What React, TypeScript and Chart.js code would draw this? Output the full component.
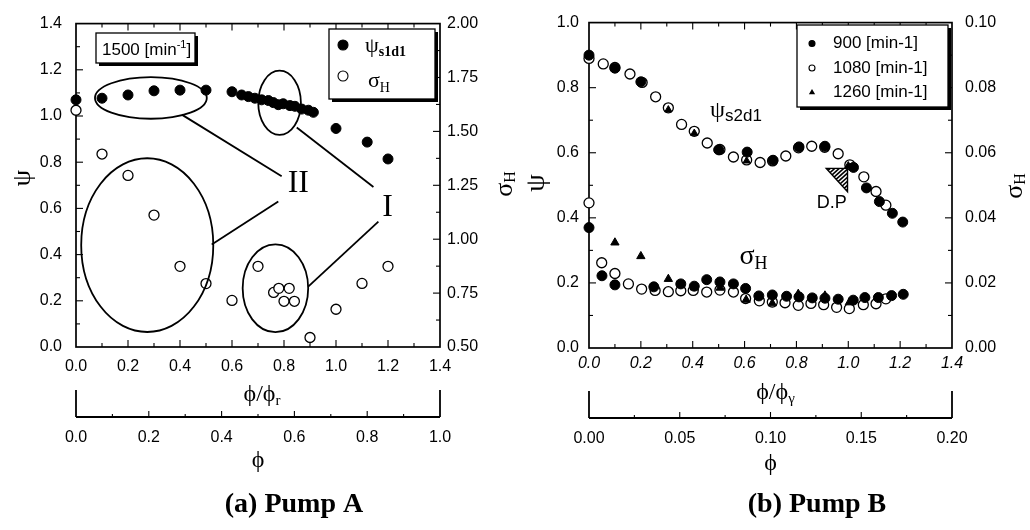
import React, { useEffect, useRef } from "react";
import { Chart, registerables } from "chart.js";

Chart.register(...registerables);

// ---------- Pump A (1500 min-1) ----------
// head coefficient ψ_s1d1 against φ/φr
const pumpAPsiFlow = [0.0, 0.1, 0.2, 0.3, 0.4, 0.5, 0.6, 0.637, 0.663, 0.688, 0.714, 0.74, 0.759, 0.778, 0.797, 0.823, 0.842, 0.868, 0.894, 0.913, 1.0, 1.12, 1.2];
const pumpAPsi = [1.07, 1.077, 1.091, 1.109, 1.112, 1.112, 1.105, 1.091, 1.084, 1.077, 1.07, 1.067, 1.058, 1.049, 1.053, 1.045, 1.042, 1.03, 1.025, 1.016, 0.946, 0.887, 0.814];
// fluctuation σ_H (right axis)
const pumpASigmaFlow = [0.0, 0.1, 0.2, 0.3, 0.4, 0.5, 0.6, 0.7, 0.76, 0.78, 0.82, 0.8, 0.84, 0.9, 1.0, 1.1, 1.2];
const pumpASigma = [1.598, 1.395, 1.296, 1.112, 0.874, 0.794, 0.716, 0.874, 0.753, 0.772, 0.772, 0.712, 0.712, 0.544, 0.675, 0.795, 0.874];

// ---------- Pump B ----------
const pumpB900PsiFlow = [0.0, 0.1, 0.2, 0.5, 0.61, 0.71, 0.81, 0.91, 1.02, 1.07, 1.12, 1.17, 1.21];
const pumpB900Psi = [0.9, 0.86, 0.818, 0.609, 0.602, 0.577, 0.618, 0.62, 0.555, 0.492, 0.45, 0.414, 0.387];
const pumpB1080PsiFlow = [0.0, 0.055, 0.1, 0.158, 0.205, 0.257, 0.306, 0.357, 0.406, 0.456, 0.505, 0.557, 0.608, 0.66, 0.708, 0.759, 0.808, 0.859, 0.909, 0.961, 1.006, 1.06, 1.107, 1.145];
const pumpB1080Psi = [0.89, 0.873, 0.862, 0.842, 0.816, 0.772, 0.738, 0.687, 0.666, 0.63, 0.61, 0.587, 0.578, 0.57, 0.575, 0.59, 0.615, 0.62, 0.617, 0.597, 0.563, 0.526, 0.481, 0.439];
const pumpB1260PsiFlow = [0.1, 0.2, 0.306, 0.406, 0.506, 0.608, 0.71, 0.81, 0.91, 1.0];
const pumpB1260Psi = [0.857, 0.82, 0.732, 0.66, 0.607, 0.575, 0.575, 0.615, 0.618, 0.56];

const pumpB900SigmaFlow = [0.0, 0.05, 0.1, 0.25, 0.354, 0.406, 0.454, 0.505, 0.557, 0.604, 0.655, 0.707, 0.762, 0.81, 0.861, 0.91, 0.961, 1.019, 1.064, 1.116, 1.167, 1.212];
const pumpB900Sigma = [0.037, 0.0222, 0.0194, 0.0188, 0.0197, 0.019, 0.021, 0.0203, 0.0197, 0.0183, 0.016, 0.0163, 0.0159, 0.0157, 0.0154, 0.0153, 0.015, 0.0147, 0.0155, 0.0155, 0.0161, 0.0165];
const pumpB1080SigmaFlow = [0.0, 0.049, 0.1, 0.152, 0.203, 0.255, 0.306, 0.354, 0.402, 0.454, 0.505, 0.557, 0.604, 0.657, 0.707, 0.756, 0.807, 0.856, 0.905, 0.955, 1.004, 1.058, 1.107, 1.145];
const pumpB1080Sigma = [0.0446, 0.0262, 0.0229, 0.0197, 0.0181, 0.0177, 0.0173, 0.0176, 0.0177, 0.0172, 0.0178, 0.0172, 0.0152, 0.0145, 0.0141, 0.0139, 0.0131, 0.0137, 0.0133, 0.0125, 0.0121, 0.0133, 0.0136, 0.0151];
const pumpB1260SigmaFlow = [0.1, 0.2, 0.306, 0.406, 0.506, 0.606, 0.707, 0.807, 0.91, 1.004];
const pumpB1260Sigma = [0.0324, 0.0282, 0.0212, 0.0186, 0.0185, 0.0148, 0.0137, 0.0166, 0.0161, 0.014];

// ---------- tick values ----------
const flowRatioTicks = [0, 0.2, 0.4, 0.6, 0.8, 1.0, 1.2, 1.4];
const pumpAPsiTicks = [0, 0.2, 0.4, 0.6, 0.8, 1.0, 1.2, 1.4];
const pumpASigmaTicks = [0.5, 0.75, 1.0, 1.25, 1.5, 1.75, 2.0];
const pumpAPhiTicks = [0, 0.2, 0.4, 0.6, 0.8, 1.0];
const pumpBPsiTicks = [0, 0.2, 0.4, 0.6, 0.8, 1.0];
const pumpBSigmaTicks = [0, 0.02, 0.04, 0.06, 0.08, 0.1];
const pumpBPhiTicks = [0, 0.05, 0.1, 0.15, 0.2];

const SERIF = "'Liberation Serif', 'DejaVu Serif', 'Times New Roman', serif";
const SANS = "'Liberation Sans', Arial, Helvetica, sans-serif";
const font = (size: number, family: string, style = "") => `${style} ${size}px ${family}`.trim();

const pts = (xs: number[], ys: number[]) => xs.map((x, i) => ({ x, y: ys[i] }));

function scale(o: {
  position: string; min: number; max: number; ticks: number[]; digits: number;
  width?: number; height?: number; padding: number; italic?: boolean; weight?: number; title?: any;
}) {
  return {
    type: "linear",
    position: o.position,
    min: o.min,
    max: o.max,
    weight: o.weight ?? 0,
    afterBuildTicks: (s: any) => { s.ticks = o.ticks.map((v) => ({ value: v })); },
    afterFit: (s: any) => {
      if (o.width != null) s.width = o.width;
      if (o.height != null) s.height = o.height;
    },
    grid: { display: false, drawTicks: false },
    border: { display: false },
    ticks: {
      color: "#000",
      padding: o.padding,
      autoSkip: false,
      maxRotation: 0,
      minRotation: 0,
      font: { family: SANS, size: 16, style: o.italic ? "italic" : "normal" },
      callback: (v: any) => Number(v).toFixed(o.digits),
    },
    title: o.title ?? { display: false },
  };
}

// ---------- drawing helpers ----------
type Run = { text: string; font: string; dy?: number };
function runs(ctx: CanvasRenderingContext2D, parts: Run[], x: number, y: number, align: "left" | "center" = "left") {
  let total = 0;
  for (const p of parts) { ctx.font = p.font; total += ctx.measureText(p.text).width; }
  let cx = align === "center" ? x - total / 2 : x;
  ctx.textAlign = "left";
  for (const p of parts) {
    ctx.font = p.font;
    ctx.fillText(p.text, cx, y + (p.dy ?? 0));
    cx += ctx.measureText(p.text).width;
  }
}
function rotatedRuns(ctx: CanvasRenderingContext2D, parts: Run[], cx: number, cy: number) {
  ctx.save();
  ctx.translate(cx, cy);
  ctx.rotate(-Math.PI / 2);
  ctx.textBaseline = "middle";
  runs(ctx, parts, 0, 0, "center");
  ctx.restore();
}
function seg(ctx: CanvasRenderingContext2D, x1: number, y1: number, x2: number, y2: number) {
  ctx.beginPath(); ctx.moveTo(x1, y1); ctx.lineTo(x2, y2); ctx.stroke();
}
function ticksH(ctx: CanvasRenderingContext2D, s: any, min: number, max: number, step: number, yPos: number, dir: number) {
  const n = Math.round((max - min) / step);
  for (let i = 1; i < n; i++) {
    const px = s.getPixelForValue(min + i * step);
    seg(ctx, px, yPos, px, yPos + dir * (i % 2 === 0 ? 7 : 4));
  }
}
function ticksV(ctx: CanvasRenderingContext2D, s: any, min: number, max: number, step: number, xPos: number, dir: number) {
  const n = Math.round((max - min) / step);
  for (let i = 1; i < n; i++) {
    const py = s.getPixelForValue(min + i * step);
    seg(ctx, xPos, py, xPos + dir * (i % 2 === 0 ? 7 : 4), py);
  }
}
function secondaryAxis(ctx: CanvasRenderingContext2D, s: any, min: number, max: number, step: number) {
  const yLine = s.top;
  const x0 = s.getPixelForValue(min), x1 = s.getPixelForValue(max);
  ctx.lineWidth = 1.8;
  seg(ctx, x0, yLine, x1, yLine);
  seg(ctx, x0, yLine, x0, yLine - 27);
  seg(ctx, x1, yLine, x1, yLine - 27);
  ctx.lineWidth = 1.1;
  const n = Math.round((max - min) / step);
  for (let i = 1; i < n; i++) {
    const px = s.getPixelForValue(min + i * step);
    seg(ctx, px, yLine, px, yLine - (i % 2 === 0 ? 6 : 3));
  }
}
function shadowBox(ctx: CanvasRenderingContext2D, x: number, y: number, w: number, h: number) {
  ctx.fillStyle = "#000";
  ctx.fillRect(x + 3, y + 3, w, h);
  ctx.fillStyle = "#fff";
  ctx.fillRect(x, y, w, h);
  ctx.lineWidth = 1.3;
  ctx.strokeRect(x, y, w, h);
  ctx.fillStyle = "#000";
}
function marker(ctx: CanvasRenderingContext2D, kind: "filled" | "open" | "tri", x: number, y: number, r: number) {
  ctx.beginPath();
  if (kind === "tri") {
    ctx.moveTo(x, y - r); ctx.lineTo(x + r * 0.87, y + r * 0.5); ctx.lineTo(x - r * 0.87, y + r * 0.5); ctx.closePath();
    ctx.fillStyle = "#000"; ctx.fill();
  } else {
    ctx.arc(x, y, r, 0, Math.PI * 2);
    ctx.fillStyle = kind === "filled" ? "#000" : "#fff";
    ctx.fill();
    ctx.lineWidth = 1.1;
    ctx.stroke();
  }
  ctx.fillStyle = "#000";
}
function dataEllipse(ctx: CanvasRenderingContext2D, xs: any, ys: any, cx: number, cy: number, rx: number, ry: number) {
  const px = xs.getPixelForValue(cx), py = ys.getPixelForValue(cy);
  const prx = Math.abs(xs.getPixelForValue(cx + rx) - px);
  const pry = Math.abs(ys.getPixelForValue(cy + ry) - py);
  ctx.beginPath();
  ctx.ellipse(px, py, prx, pry, 0, 0, Math.PI * 2);
  ctx.stroke();
}
function dataSeg(ctx: CanvasRenderingContext2D, xs: any, ys: any, a: number[], b: number[]) {
  seg(ctx, xs.getPixelForValue(a[0]), ys.getPixelForValue(a[1]), xs.getPixelForValue(b[0]), ys.getPixelForValue(b[1]));
}
function frame(ctx: CanvasRenderingContext2D, a: any) {
  ctx.lineWidth = 1.7;
  ctx.strokeRect(a.left, a.top, a.right - a.left, a.bottom - a.top);
}

// ---------- Pump A decorations ----------
function pumpAUnder(chart: any) {
  const { ctx, chartArea: a, scales } = chart;
  ctx.save();
  ctx.strokeStyle = "#000";
  ctx.fillStyle = "#000";
  frame(ctx, a);
  ctx.lineWidth = 1.1;
  ticksH(ctx, scales.x, 0, 1.4, 0.1, a.bottom, -1);
  ticksH(ctx, scales.x, 0, 1.4, 0.1, a.top, 1);
  ticksV(ctx, scales.y, 0, 1.4, 0.1, a.left, 1);
  ticksV(ctx, scales.y2, 0.5, 2.0, 0.125, a.right, -1);
  secondaryAxis(ctx, scales.x2, 0, 1, 0.1);
  ctx.restore();
}
function pumpAOver(chart: any) {
  const { ctx, chartArea: a, scales } = chart;
  const xs = scales.x, ys = scales.y;
  ctx.save();
  ctx.strokeStyle = "#000";
  ctx.fillStyle = "#000";

  // grouping ellipses and leader lines
  ctx.lineWidth = 1.8;
  dataEllipse(ctx, xs, ys, 0.288, 1.078, 0.215, 0.09);
  dataEllipse(ctx, xs, ys, 0.783, 1.057, 0.082, 0.139);
  dataEllipse(ctx, xs, ys, 0.274, 0.441, 0.254, 0.376);
  dataEllipse(ctx, xs, ys, 0.767, 0.254, 0.126, 0.19);
  dataSeg(ctx, xs, ys, [0.407, 1.006], [0.791, 0.739]);
  dataSeg(ctx, xs, ys, [0.522, 0.444], [0.778, 0.63]);
  dataSeg(ctx, xs, ys, [0.849, 0.95], [1.144, 0.693]);
  dataSeg(ctx, xs, ys, [0.893, 0.261], [1.163, 0.543]);

  ctx.textBaseline = "middle";
  ctx.textAlign = "center";
  ctx.font = font(32, SERIF);
  ctx.fillText("II", xs.getPixelForValue(0.855), ys.getPixelForValue(0.708));
  ctx.fillText("I", xs.getPixelForValue(1.198), ys.getPixelForValue(0.605));

  // speed box
  ctx.textBaseline = "alphabetic";
  shadowBox(ctx, 96, 33, 99, 30);
  runs(ctx, [
    { text: "1500 [min", font: font(17, SANS) },
    { text: "-1", font: font(11, SANS), dy: -7 },
    { text: "]", font: font(17, SANS) },
  ], 102, 55);

  // legend
  shadowBox(ctx, 329, 29, 106, 70);
  marker(ctx, "filled", 343, 45, 5);
  marker(ctx, "open", 343, 76, 5);
  runs(ctx, [
    { text: "ψ", font: font(22, SERIF) },
    { text: "s1d1", font: font(14, SERIF, "bold"), dy: 4 },
  ], 365, 52);
  runs(ctx, [
    { text: "σ", font: font(22, SERIF) },
    { text: "H", font: font(14, SERIF), dy: 5 },
  ], 368, 87);

  // axis titles
  ctx.textBaseline = "middle";
  rotatedRuns(ctx, [{ text: "ψ", font: font(26, SERIF) }], 23, 178);
  rotatedRuns(ctx, [
    { text: "σ", font: font(26, SERIF) },
    { text: "H", font: font(16, SERIF), dy: 6 },
  ], 505, 184);
  ctx.textBaseline = "middle";
  runs(ctx, [
    { text: "ϕ/ϕ", font: font(24, SERIF) },
    { text: "r", font: font(15, SERIF), dy: 6 },
  ], (a.left + a.right) / 2 + 4, 395, "center");

  ctx.font = font(28, SERIF, "bold");
  ctx.textAlign = "center";
  ctx.fillText("(a) Pump A", 294, 505);
  ctx.restore();
}

// ---------- Pump B decorations ----------
function pumpBUnder(chart: any) {
  const { ctx, chartArea: a, scales } = chart;
  ctx.save();
  ctx.strokeStyle = "#000";
  ctx.fillStyle = "#000";
  frame(ctx, a);
  ctx.lineWidth = 1.1;
  ticksH(ctx, scales.x, 0, 1.4, 0.1, a.bottom, -1);
  ticksH(ctx, scales.x, 0, 1.4, 0.1, a.top, 1);
  ticksV(ctx, scales.y, 0, 1.0, 0.1, a.left, 1);
  ticksV(ctx, scales.y2, 0, 0.1, 0.01, a.right, -1);
  secondaryAxis(ctx, scales.x2, 0, 0.2, 0.025);
  ctx.restore();
}
function pumpBOver(chart: any) {
  const { ctx, chartArea: a, scales } = chart;
  const xs = scales.x, ys = scales.y;
  ctx.save();
  ctx.strokeStyle = "#000";
  ctx.fillStyle = "#000";

  // design point marker (hatched)
  const p1 = [xs.getPixelForValue(0.915), ys.getPixelForValue(0.552)];
  const p2 = [xs.getPixelForValue(0.997), ys.getPixelForValue(0.552)];
  const p3 = [xs.getPixelForValue(0.997), ys.getPixelForValue(0.48)];
  ctx.save();
  ctx.beginPath();
  ctx.moveTo(p1[0], p1[1]); ctx.lineTo(p2[0], p2[1]); ctx.lineTo(p3[0], p3[1]); ctx.closePath();
  ctx.fillStyle = "#fff";
  ctx.fill();
  ctx.clip();
  ctx.lineWidth = 1.6;
  for (let k = -40; k < 40; k += 4.5) {
    seg(ctx, p1[0] + k, p3[1], p1[0] + k + 26, p1[1]);
  }
  ctx.restore();
  ctx.lineWidth = 1.4;
  ctx.beginPath();
  ctx.moveTo(p1[0], p1[1]); ctx.lineTo(p2[0], p2[1]); ctx.lineTo(p3[0], p3[1]); ctx.closePath();
  ctx.stroke();

  ctx.textAlign = "center";
  ctx.textBaseline = "middle";
  ctx.font = font(18, SANS);
  ctx.fillText("D.P", xs.getPixelForValue(0.936), ys.getPixelForValue(0.447));

  ctx.textBaseline = "alphabetic";
  runs(ctx, [
    { text: "ψ", font: font(24, SERIF) },
    { text: "s2d1", font: font(17, SANS), dy: 4 },
  ], xs.getPixelForValue(0.467), ys.getPixelForValue(0.71));
  runs(ctx, [
    { text: "σ", font: font(28, SERIF) },
    { text: "H", font: font(18, SERIF), dy: 5 },
  ], xs.getPixelForValue(0.58), ys.getPixelForValue(0.258));

  // legend
  shadowBox(ctx, 282, 25, 151, 82);
  marker(ctx, "filled", 297, 43.5, 3);
  marker(ctx, "open", 297, 68, 3);
  marker(ctx, "tri", 297, 92.5, 3.6);
  ctx.textBaseline = "middle";
  ctx.font = font(17, SANS);
  ctx.textAlign = "left";
  ctx.fillText("900 [min-1]", 318, 43.5);
  ctx.fillText("1080 [min-1]", 318, 68);
  ctx.fillText("1260 [min-1]", 318, 92.5);

  // axis titles
  rotatedRuns(ctx, [{ text: "ψ", font: font(28, SERIF) }], 22, 183);
  rotatedRuns(ctx, [
    { text: "σ", font: font(26, SERIF) },
    { text: "H", font: font(16, SERIF), dy: 6 },
  ], 500, 186);
  ctx.textBaseline = "middle";
  runs(ctx, [
    { text: "ϕ/ϕ", font: font(24, SERIF) },
    { text: "γ", font: font(15, SERIF), dy: 6 },
  ], (a.left + a.right) / 2 + 5, 393, "center");

  ctx.font = font(28, SERIF, "bold");
  ctx.textAlign = "center";
  ctx.fillText("(b) Pump B", 302, 505);
  ctx.restore();
}

// ---------- chart configs ----------
const filled = { pointStyle: "circle", backgroundColor: "#000", borderColor: "#000", borderWidth: 1, clip: false };
const open = { pointStyle: "circle", backgroundColor: "#fff", borderColor: "#000", borderWidth: 1.3, clip: false };
const tri = { pointStyle: "triangle", backgroundColor: "#000", borderColor: "#000", borderWidth: 1, clip: false };

const phiTitle = (bottom: number) => ({
  display: true,
  text: "ϕ",
  color: "#000",
  font: { family: SERIF, size: 24 },
  padding: { top: 0, bottom: bottom },
});

const common = {
  responsive: false,
  devicePixelRatio: 1,
  animation: false,
  events: [],
};

function buildPumpA(): any {
  return {
    type: "scatter",
    data: {
      datasets: [
        { label: "ψs1d1", data: pts(pumpAPsiFlow, pumpAPsi), yAxisID: "y", pointRadius: 5, order: 0, ...filled },
        { label: "σH", data: pts(pumpASigmaFlow, pumpASigma), yAxisID: "y2", pointRadius: 5, order: 1, ...open },
      ],
    },
    options: {
      ...common,
      layout: { padding: { top: 15, left: 0, right: 0, bottom: 53 } },
      plugins: { legend: { display: false }, tooltip: { enabled: false }, title: { display: false } },
      scales: {
        x: scale({ position: "bottom", min: 0, max: 1.4, ticks: flowRatioTicks, digits: 1, height: 70, padding: 10, weight: 0 }),
        x2: scale({ position: "bottom", min: 0, max: 1.0, ticks: pumpAPhiTicks, digits: 1, height: 60, padding: 11, weight: 1, title: phiTitle(2) }),
        y: scale({ position: "left", min: 0, max: 1.4, ticks: pumpAPsiTicks, digits: 1, width: 76, padding: 14 }),
        y2: scale({ position: "right", min: 0.5, max: 2.0, ticks: pumpASigmaTicks, digits: 2, width: 75, padding: 7 }),
      },
    },
    plugins: [{ id: "pumpADecor", beforeDatasetsDraw: pumpAUnder, afterDatasetsDraw: pumpAOver }],
  };
}

function buildPumpB(): any {
  return {
    type: "scatter",
    data: {
      datasets: [
        { label: "1260 ψ", data: pts(pumpB1260PsiFlow, pumpB1260Psi), yAxisID: "y", pointRadius: 4.2, order: 0, ...tri },
        { label: "1260 σ", data: pts(pumpB1260SigmaFlow, pumpB1260Sigma), yAxisID: "y2", pointRadius: 4.8, order: 0, ...tri },
        { label: "900 ψ", data: pts(pumpB900PsiFlow, pumpB900Psi), yAxisID: "y", pointRadius: 5, order: 1, ...filled },
        { label: "900 σ", data: pts(pumpB900SigmaFlow, pumpB900Sigma), yAxisID: "y2", pointRadius: 5, order: 1, ...filled },
        { label: "1080 ψ", data: pts(pumpB1080PsiFlow, pumpB1080Psi), yAxisID: "y", pointRadius: 5, order: 2, ...open },
        { label: "1080 σ", data: pts(pumpB1080SigmaFlow, pumpB1080Sigma), yAxisID: "y2", pointRadius: 5, order: 2, ...open },
      ],
    },
    options: {
      ...common,
      layout: { padding: { top: 15, left: 0, right: 0, bottom: 52 } },
      plugins: { legend: { display: false }, tooltip: { enabled: false }, title: { display: false } },
      scales: {
        x: scale({ position: "bottom", min: 0, max: 1.4, ticks: flowRatioTicks, digits: 1, height: 70, padding: 6, italic: true, weight: 0 }),
        x2: scale({ position: "bottom", min: 0, max: 0.2, ticks: pumpBPhiTicks, digits: 2, height: 60, padding: 11, weight: 1, title: phiTitle(0) }),
        y: scale({ position: "left", min: 0, max: 1.0, ticks: pumpBPsiTicks, digits: 1, width: 74, padding: 10 }),
        y2: scale({ position: "right", min: 0, max: 0.1, ticks: pumpBSigmaTicks, digits: 2, width: 78, padding: 13 }),
      },
    },
    plugins: [{ id: "pumpBDecor", beforeDatasetsDraw: pumpBUnder, afterDatasetsDraw: pumpBOver }],
  };
}

export default function App() {
  const leftRef = useRef<HTMLCanvasElement>(null);
  const rightRef = useRef<HTMLCanvasElement>(null);

  useEffect(() => {
    const a = new Chart(leftRef.current as HTMLCanvasElement, buildPumpA());
    const b = new Chart(rightRef.current as HTMLCanvasElement, buildPumpB());
    return () => {
      a.destroy();
      b.destroy();
    };
  }, []);

  return (
    <div style={{ position: "absolute", left: 0, top: 0, width: 1030, height: 530, background: "#fff" }}>
      <canvas ref={leftRef} width={515} height={530} style={{ position: "absolute", left: 0, top: 0 }} />
      <canvas ref={rightRef} width={515} height={530} style={{ position: "absolute", left: 515, top: 0 }} />
    </div>
  );
}
